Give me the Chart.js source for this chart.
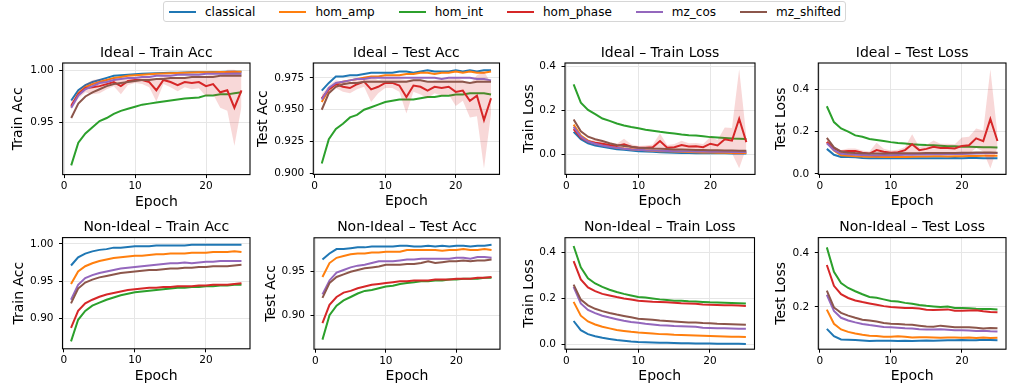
<!DOCTYPE html>
<html><head><meta charset="utf-8">
<script src="https://cdn.jsdelivr.net/npm/chart.js@4.4.1/dist/chart.umd.min.js"></script>
<style>
html,body{margin:0;padding:0;background:#fff;}
#fig{position:relative;width:1026px;height:392px;overflow:hidden;font-family:'DejaVu Sans';background:#fff;}
#legend{position:absolute;left:163px;top:1px;height:19px;border:1px solid #d6d6d6;border-radius:3px;display:flex;align-items:center;padding:0 4px 0 5px;font-size:12px;color:#000;white-space:nowrap;}
.item{display:flex;align-items:center;margin-right:24px;}
.item:last-child{margin-right:0;}
.swatch{width:27px;height:2px;margin-right:9px;}
canvas{position:absolute;}
</style></head>
<body><div id="fig"><div id="legend"></div></div>
<script>
// ---------------- data ----------------
const EPOCHS = [1,2,3,4,5,6,7,8,9,10,11,12,13,14,15,16,17,18,19,20,21,22,23,24,25];
const SERIES = ['classical','hom_amp','hom_int','hom_phase','mz_cos','mz_shifted'];
const COLORS = ['#1f77b4','#ff7f0e','#2ca02c','#d62728','#9467bd','#8c564b'];
const X_TICKS = [0,10,20];

// Ideal – Train Acc
const iTrA_classical = [0.971,0.981,0.986,0.989,0.991,0.993,0.995,0.9955,0.996,0.9965,0.997,0.9972,0.9975,0.9978,0.998,0.998,0.9982,0.9984,0.9985,0.9986,0.9987,0.9988,0.9989,0.999,0.999];
const iTrA_hom_amp = [0.965,0.978,0.984,0.987,0.989,0.991,0.993,0.994,0.995,0.9955,0.996,0.9965,0.997,0.9972,0.9975,0.9978,0.998,0.9982,0.9984,0.9985,0.9986,0.9987,0.9988,0.9989,0.999];
const iTrA_hom_int = [0.908,0.930,0.939,0.945,0.951,0.954,0.958,0.961,0.963,0.965,0.967,0.968,0.969,0.970,0.971,0.972,0.973,0.9735,0.974,0.976,0.976,0.977,0.977,0.978,0.979];
const iTrA_hom_phase = [0.966,0.977,0.983,0.984,0.985,0.987,0.989,0.985,0.990,0.991,0.991,0.989,0.981,0.991,0.989,0.986,0.989,0.988,0.989,0.985,0.987,0.979,0.981,0.964,0.981];
const iTrA_hom_phase_std = [0.004,0.004,0.004,0.007,0.007,0.005,0.004,0.008,0.004,0.003,0.004,0.005,0.011,0.004,0.005,0.006,0.005,0.006,0.006,0.010,0.010,0.015,0.020,0.037,0.016];
const iTrA_mz_cos = [0.964,0.976,0.982,0.985,0.988,0.989,0.991,0.992,0.993,0.993,0.994,0.994,0.995,0.995,0.995,0.996,0.996,0.996,0.996,0.997,0.997,0.997,0.997,0.997,0.997];
const iTrA_mz_shifted = [0.954,0.968,0.975,0.979,0.982,0.985,0.987,0.988,0.989,0.990,0.991,0.991,0.992,0.992,0.993,0.993,0.993,0.994,0.994,0.994,0.994,0.995,0.995,0.995,0.995];

// Ideal – Test Acc
const iTeA_classical = [0.965,0.971,0.976,0.976,0.977,0.977,0.978,0.979,0.979,0.979,0.979,0.980,0.980,0.979,0.980,0.981,0.980,0.980,0.980,0.981,0.980,0.981,0.980,0.981,0.981];
const iTeA_hom_amp = [0.956,0.966,0.970,0.972,0.973,0.974,0.975,0.976,0.976,0.977,0.977,0.977,0.978,0.978,0.979,0.979,0.978,0.979,0.979,0.980,0.979,0.980,0.979,0.979,0.980];
const iTeA_hom_int = [0.908,0.927,0.935,0.939,0.944,0.946,0.950,0.952,0.954,0.956,0.957,0.958,0.958,0.958,0.959,0.960,0.960,0.961,0.961,0.962,0.962,0.963,0.963,0.963,0.962];
const iTeA_hom_phase = [0.959,0.966,0.970,0.968,0.967,0.970,0.972,0.966,0.968,0.971,0.971,0.969,0.960,0.969,0.968,0.965,0.968,0.967,0.968,0.964,0.965,0.957,0.961,0.942,0.959];
const iTeA_hom_phase_std = [0.003,0.003,0.003,0.004,0.004,0.004,0.004,0.010,0.005,0.004,0.004,0.005,0.013,0.005,0.006,0.006,0.005,0.006,0.006,0.011,0.008,0.013,0.016,0.038,0.012];
const iTeA_mz_cos = [0.958,0.967,0.971,0.972,0.973,0.974,0.974,0.975,0.975,0.975,0.975,0.975,0.975,0.975,0.975,0.975,0.975,0.974,0.975,0.975,0.975,0.975,0.974,0.974,0.973];
const iTeA_mz_shifted = [0.950,0.963,0.968,0.970,0.971,0.971,0.972,0.972,0.972,0.972,0.972,0.972,0.972,0.973,0.973,0.972,0.972,0.972,0.972,0.972,0.972,0.971,0.972,0.972,0.972];

// Ideal – Train Loss
const iTrL_classical = [0.102,0.068,0.050,0.040,0.034,0.028,0.023,0.020,0.017,0.014,0.012,0.011,0.009,0.008,0.007,0.006,0.006,0.005,0.005,0.004,0.004,0.004,0.003,0.003,0.003];
const iTrL_hom_amp = [0.135,0.085,0.062,0.050,0.042,0.036,0.030,0.026,0.023,0.020,0.018,0.016,0.014,0.013,0.012,0.011,0.010,0.009,0.008,0.008,0.007,0.007,0.006,0.006,0.006];
const iTrL_hom_int = [0.318,0.235,0.202,0.183,0.163,0.152,0.140,0.131,0.124,0.118,0.112,0.107,0.102,0.098,0.094,0.090,0.087,0.085,0.082,0.078,0.076,0.074,0.072,0.071,0.069];
const iTrL_hom_phase = [0.115,0.075,0.058,0.052,0.048,0.042,0.038,0.045,0.034,0.030,0.030,0.032,0.060,0.030,0.032,0.042,0.035,0.036,0.032,0.048,0.040,0.068,0.062,0.162,0.055];
const iTrL_hom_phase_std = [0.008,0.008,0.008,0.012,0.012,0.010,0.010,0.025,0.012,0.008,0.010,0.012,0.035,0.012,0.015,0.020,0.015,0.015,0.015,0.030,0.025,0.054,0.058,0.226,0.025];
const iTrL_mz_cos = [0.125,0.080,0.058,0.048,0.040,0.034,0.029,0.025,0.022,0.020,0.018,0.017,0.016,0.015,0.014,0.013,0.013,0.012,0.012,0.011,0.011,0.011,0.010,0.010,0.010];
const iTrL_mz_shifted = [0.158,0.105,0.080,0.068,0.060,0.050,0.042,0.038,0.034,0.030,0.028,0.026,0.025,0.024,0.022,0.021,0.020,0.019,0.019,0.018,0.018,0.017,0.017,0.016,0.016];

// Ideal – Test Loss
const iTeL_classical = [0.118,0.090,0.080,0.079,0.078,0.075,0.074,0.074,0.074,0.073,0.074,0.074,0.073,0.074,0.074,0.073,0.074,0.074,0.075,0.074,0.075,0.075,0.074,0.074,0.073];
const iTeL_hom_amp = [0.150,0.110,0.088,0.085,0.083,0.082,0.081,0.081,0.080,0.080,0.081,0.080,0.081,0.082,0.082,0.083,0.083,0.082,0.083,0.083,0.084,0.084,0.085,0.085,0.085];
const iTeL_hom_int = [0.320,0.245,0.215,0.200,0.182,0.175,0.165,0.160,0.155,0.150,0.146,0.143,0.140,0.138,0.136,0.135,0.133,0.131,0.130,0.128,0.128,0.127,0.126,0.126,0.125];
const iTeL_hom_phase = [0.150,0.120,0.105,0.108,0.108,0.100,0.095,0.112,0.104,0.100,0.102,0.112,0.140,0.112,0.118,0.128,0.122,0.122,0.120,0.132,0.135,0.168,0.155,0.260,0.155];
const iTeL_hom_phase_std = [0.008,0.008,0.008,0.012,0.012,0.010,0.010,0.035,0.015,0.010,0.012,0.015,0.047,0.015,0.018,0.030,0.020,0.020,0.020,0.040,0.040,0.046,0.050,0.235,0.030];
const iTeL_mz_cos = [0.145,0.112,0.095,0.092,0.090,0.089,0.088,0.088,0.089,0.088,0.089,0.090,0.090,0.091,0.091,0.092,0.093,0.093,0.094,0.094,0.095,0.096,0.097,0.098,0.098];
const iTeL_mz_shifted = [0.170,0.125,0.105,0.100,0.098,0.097,0.096,0.096,0.096,0.096,0.097,0.097,0.097,0.097,0.098,0.098,0.098,0.099,0.099,0.100,0.100,0.101,0.101,0.101,0.100];

// Non-Ideal – Train Acc
const nTrA_classical = [0.971,0.982,0.987,0.990,0.992,0.993,0.995,0.995,0.996,0.997,0.997,0.997,0.998,0.998,0.998,0.998,0.998,0.999,0.999,0.999,0.999,0.999,0.999,0.999,0.999];
const nTrA_hom_amp = [0.946,0.963,0.970,0.974,0.977,0.979,0.981,0.982,0.983,0.984,0.984,0.985,0.986,0.986,0.987,0.987,0.987,0.988,0.988,0.988,0.989,0.989,0.989,0.990,0.989];
const nTrA_hom_int = [0.869,0.898,0.910,0.917,0.921,0.925,0.928,0.931,0.933,0.935,0.936,0.937,0.938,0.939,0.940,0.941,0.941,0.942,0.942,0.943,0.943,0.944,0.944,0.945,0.945];
const nTrA_hom_phase = [0.887,0.910,0.920,0.925,0.929,0.932,0.934,0.936,0.938,0.939,0.940,0.941,0.941,0.942,0.942,0.943,0.943,0.943,0.944,0.944,0.945,0.945,0.945,0.946,0.947];
const nTrA_mz_cos = [0.925,0.945,0.954,0.958,0.961,0.963,0.965,0.967,0.968,0.969,0.970,0.971,0.972,0.973,0.974,0.974,0.975,0.974,0.975,0.976,0.976,0.977,0.977,0.977,0.977];
const nTrA_mz_shifted = [0.920,0.940,0.948,0.952,0.955,0.957,0.959,0.961,0.962,0.963,0.964,0.965,0.965,0.966,0.967,0.967,0.968,0.968,0.969,0.969,0.970,0.970,0.970,0.971,0.972];

// Non-Ideal – Test Acc
const nTeA_classical = [0.964,0.971,0.976,0.976,0.977,0.978,0.978,0.979,0.979,0.979,0.979,0.980,0.980,0.979,0.979,0.980,0.979,0.980,0.979,0.980,0.980,0.979,0.980,0.980,0.981];
const nTeA_hom_amp = [0.944,0.960,0.966,0.968,0.970,0.971,0.971,0.972,0.972,0.973,0.973,0.973,0.975,0.975,0.975,0.975,0.975,0.974,0.975,0.975,0.976,0.975,0.975,0.976,0.975];
const nTeA_hom_int = [0.872,0.900,0.911,0.917,0.921,0.925,0.928,0.929,0.931,0.933,0.934,0.936,0.937,0.938,0.939,0.939,0.940,0.940,0.941,0.941,0.942,0.942,0.942,0.943,0.943];
const nTeA_hom_phase = [0.891,0.912,0.921,0.926,0.928,0.931,0.933,0.935,0.936,0.937,0.938,0.939,0.939,0.940,0.940,0.940,0.941,0.941,0.941,0.942,0.942,0.942,0.943,0.943,0.944];
const nTeA_mz_cos = [0.924,0.940,0.949,0.952,0.955,0.957,0.958,0.960,0.962,0.962,0.962,0.963,0.964,0.964,0.965,0.965,0.965,0.965,0.965,0.966,0.966,0.965,0.967,0.967,0.966];
const nTeA_mz_shifted = [0.920,0.937,0.944,0.947,0.950,0.952,0.954,0.955,0.956,0.958,0.958,0.958,0.959,0.959,0.960,0.962,0.960,0.961,0.962,0.962,0.963,0.962,0.963,0.963,0.964];

// Non-Ideal – Train Loss
const nTrL_classical = [0.102,0.062,0.045,0.036,0.029,0.024,0.019,0.016,0.013,0.011,0.010,0.009,0.008,0.007,0.006,0.005,0.005,0.004,0.004,0.004,0.003,0.003,0.003,0.003,0.002];
const nTrL_hom_amp = [0.185,0.125,0.100,0.087,0.077,0.070,0.063,0.059,0.055,0.052,0.050,0.048,0.045,0.044,0.042,0.041,0.040,0.039,0.038,0.037,0.036,0.035,0.034,0.034,0.033];
const nTrL_hom_int = [0.428,0.335,0.288,0.265,0.250,0.238,0.228,0.220,0.213,0.206,0.204,0.200,0.196,0.193,0.190,0.190,0.188,0.187,0.185,0.183,0.182,0.181,0.180,0.179,0.178];
const nTrL_hom_phase = [0.362,0.283,0.248,0.232,0.220,0.213,0.206,0.200,0.195,0.190,0.188,0.186,0.185,0.183,0.181,0.179,0.178,0.177,0.174,0.173,0.172,0.171,0.170,0.169,0.167];
const nTrL_mz_cos = [0.250,0.178,0.150,0.136,0.125,0.117,0.110,0.103,0.098,0.094,0.090,0.087,0.084,0.082,0.080,0.079,0.078,0.077,0.073,0.072,0.071,0.070,0.069,0.068,0.068];
const nTrL_mz_shifted = [0.260,0.195,0.170,0.155,0.145,0.137,0.130,0.124,0.118,0.112,0.110,0.107,0.104,0.102,0.100,0.098,0.096,0.095,0.093,0.092,0.090,0.089,0.088,0.087,0.086];

// Non-Ideal – Test Loss
const nTeL_classical = [0.119,0.092,0.080,0.079,0.078,0.076,0.074,0.075,0.075,0.075,0.074,0.075,0.074,0.075,0.076,0.075,0.076,0.077,0.077,0.078,0.077,0.077,0.079,0.078,0.077];
const nTeL_hom_amp = [0.190,0.138,0.117,0.108,0.102,0.097,0.094,0.093,0.090,0.090,0.092,0.090,0.087,0.088,0.088,0.087,0.086,0.087,0.087,0.086,0.087,0.085,0.087,0.085,0.086];
const nTeL_hom_int = [0.420,0.330,0.288,0.270,0.258,0.247,0.237,0.234,0.228,0.222,0.220,0.215,0.212,0.207,0.204,0.202,0.200,0.202,0.196,0.196,0.195,0.193,0.192,0.192,0.191];
const nTeL_hom_phase = [0.355,0.278,0.247,0.233,0.224,0.218,0.213,0.208,0.203,0.200,0.198,0.196,0.196,0.194,0.190,0.189,0.190,0.191,0.186,0.186,0.187,0.188,0.184,0.181,0.180];
const nTeL_mz_cos = [0.245,0.185,0.160,0.150,0.143,0.137,0.133,0.130,0.126,0.125,0.123,0.121,0.120,0.118,0.117,0.117,0.118,0.116,0.114,0.114,0.113,0.111,0.112,0.110,0.109];
const nTeL_mz_shifted = [0.260,0.198,0.178,0.168,0.160,0.153,0.150,0.146,0.141,0.138,0.137,0.135,0.134,0.131,0.128,0.127,0.131,0.128,0.125,0.125,0.125,0.123,0.120,0.122,0.121];

// y tick labels per panel
const Y_TICKS_ITRA = [0.95, 1.00];
const Y_TICKS_ITEA = [0.900, 0.925, 0.950, 0.975];
const Y_TICKS_ITRL = [0.0, 0.2, 0.4];
const Y_TICKS_ITEL = [0.0, 0.2, 0.4];
const Y_TICKS_NTRA = [0.90, 0.95, 1.00];
const Y_TICKS_NTEA = [0.90, 0.95];
const Y_TICKS_NTRL = [0.0, 0.2, 0.4];
const Y_TICKS_NTEL = [0.2, 0.4];

// ---------------- panels ----------------
const panels = [
  {title:'Ideal – Train Acc', ylabel:'Train Acc', series:[iTrA_classical,iTrA_hom_amp,iTrA_hom_int,iTrA_hom_phase,iTrA_mz_cos,iTrA_mz_shifted], std:iTrA_hom_phase_std, yMin:0.899, yMax:1.0075, ticks:Y_TICKS_ITRA, dec:2, box:[62.7,63,250,174.6], yoff:44},
  {title:'Ideal – Test Acc', ylabel:'Test Acc', series:[iTeA_classical,iTeA_hom_amp,iTeA_hom_int,iTeA_hom_phase,iTeA_mz_cos,iTeA_mz_shifted], std:iTeA_hom_phase_std, yMin:0.8994, yMax:0.9866, ticks:Y_TICKS_ITEA, dec:3, box:[313.3,63,499.5,174.4], yoff:50},
  {title:'Ideal – Train Loss', ylabel:'Train Loss', series:[iTrL_classical,iTrL_hom_amp,iTrL_hom_int,iTrL_hom_phase,iTrL_mz_cos,iTrL_mz_shifted], std:iTrL_hom_phase_std, yMin:-0.092, yMax:0.416, ticks:Y_TICKS_ITRL, dec:1, box:[565,63,755,174.4], yoff:35.5},
  {title:'Ideal – Test Loss', ylabel:'Test Loss', series:[iTeL_classical,iTeL_hom_amp,iTeL_hom_int,iTeL_hom_phase,iTeL_mz_cos,iTeL_mz_shifted], std:iTeL_hom_phase_std, yMin:-0.003, yMax:0.525, ticks:Y_TICKS_ITEL, dec:1, box:[818.3,63,1006,174.4], yoff:37},
  {title:'Non-Ideal – Train Acc', ylabel:'Train Acc', series:[nTrA_classical,nTrA_hom_amp,nTrA_hom_int,nTrA_hom_phase,nTrA_mz_cos,nTrA_mz_shifted], std:null, yMin:0.859, yMax:1.0085, ticks:Y_TICKS_NTRA, dec:2, box:[62.5,237.6,250,348.8], yoff:43},
  {title:'Non-Ideal – Test Acc', ylabel:'Test Acc', series:[nTeA_classical,nTeA_hom_amp,nTeA_hom_int,nTeA_hom_phase,nTeA_mz_cos,nTeA_mz_shifted], std:null, yMin:0.861, yMax:0.989, ticks:Y_TICKS_NTEA, dec:2, box:[314,237.8,500,349.2], yoff:43},
  {title:'Non-Ideal – Train Loss', ylabel:'Train Loss', series:[nTrL_classical,nTrL_hom_amp,nTrL_hom_int,nTrL_hom_phase,nTrL_mz_cos,nTrL_mz_shifted], std:null, yMin:-0.0205, yMax:0.464, ticks:Y_TICKS_NTRL, dec:1, box:[565,237.7,754.5,349.2], yoff:35.5},
  {title:'Non-Ideal – Test Loss', ylabel:'Test Loss', series:[nTeL_classical,nTeL_hom_amp,nTeL_hom_int,nTeL_hom_phase,nTeL_mz_cos,nTeL_mz_shifted], std:null, yMin:0.044, yMax:0.456, ticks:Y_TICKS_NTEL, dec:1, box:[818.3,237.6,1006,349.2], yoff:37},
];

// ---------------- legend ----------------
const legend = document.getElementById('legend');
SERIES.forEach((name, i) => {
  const it = document.createElement('div'); it.className = 'item';
  const sw = document.createElement('div'); sw.className = 'swatch'; sw.style.background = COLORS[i];
  const tx = document.createElement('span'); tx.textContent = name;
  it.appendChild(sw); it.appendChild(tx); legend.appendChild(it);
});

// ---------------- charts ----------------
Chart.defaults.font.family = "'DejaVu Sans', sans-serif";
Chart.defaults.color = '#000';

const framePlugin = {
  id: 'frame',
  afterDraw(chart) {
    const {ctx, chartArea: a} = chart;
    ctx.save();
    ctx.strokeStyle = '#000';
    ctx.lineWidth = 1.1;
    ctx.strokeRect(a.left, a.top, a.right - a.left, a.bottom - a.top);
    ctx.restore();
  }
};

const TITLE_PT = 4, TITLE_PB = 1.6, TITLE_SIZE = 14;
const TH = TITLE_PT + TITLE_SIZE * 1.2 + TITLE_PB;
const XH = 35.7;
const fig = document.getElementById('fig');

function pts(arr) { return arr.map((y, k) => ({x: EPOCHS[k], y})); }

panels.forEach(p => {
  const [L, T, R, B] = p.box;
  const YW = p.yoff + 8.4;
  const cx = Math.floor(L - YW - 2), cy = Math.floor(T - TH - 2);
  const cw = Math.ceil(R + 3 - cx), ch = Math.ceil(B + XH + 2 - cy);
  const pad = {left: L - YW - cx, top: T - TH - cy, right: cx + cw - R, bottom: cy + ch - B - XH};
  const cv = document.createElement('canvas');
  cv.width = cw; cv.height = ch;
  cv.style.left = cx + 'px'; cv.style.top = cy + 'px';
  cv.style.width = cw + 'px'; cv.style.height = ch + 'px';
  fig.appendChild(cv);

  const datasets = [];
  p.series.forEach((arr, i) => {
    if (i === 3 && p.std) {
      datasets.push({label: 'band_hi', data: pts(arr.map((m, k) => m + p.std[k])), borderWidth: 0, pointRadius: 0, fill: false, order: 10 - i - 0.5, borderColor: 'rgba(0,0,0,0)'});
      datasets.push({label: 'band_lo', data: pts(arr.map((m, k) => m - p.std[k])), borderWidth: 0, pointRadius: 0, fill: '-1', backgroundColor: 'rgba(214,39,40,0.18)', order: 10 - i - 0.5, borderColor: 'rgba(0,0,0,0)'});
    }
    datasets.push({label: SERIES[i], data: pts(arr), borderColor: COLORS[i], backgroundColor: COLORS[i], borderWidth: 2, pointRadius: 0, tension: 0, fill: false, order: 10 - i});
  });

  new Chart(cv, {
    type: 'line',
    data: {datasets},
    plugins: [framePlugin],
    options: {
      responsive: false, animation: false, devicePixelRatio: 1,
      layout: {padding: pad},
      plugins: {
        legend: {display: false}, tooltip: {enabled: false},
        title: {display: true, fullSize: false, align: 'center', text: p.title, color: '#000', font: {size: TITLE_SIZE, weight: 'normal'}, padding: {top: TITLE_PT, bottom: TITLE_PB}}
      },
      scales: {
        x: {
          type: 'linear', min: -0.2, max: 26.2,
          afterBuildTicks: s => { s.ticks = X_TICKS.map(v => ({value: v})); },
          afterFit: s => { s.height = XH; },
          ticks: {font: {size: 10.5}, color: '#000', padding: 2, maxRotation: 0, autoSkip: false},
          grid: {color: '#e6e6e6', lineWidth: 1, tickLength: 3.5, tickColor: '#000', drawTicks: true},
          border: {display: false},
          title: {display: true, text: 'Epoch', color: '#000', font: {size: 14}, padding: {top: 0, bottom: 0}}
        },
        y: {
          type: 'linear', min: p.yMin, max: p.yMax,
          afterBuildTicks: s => { s.ticks = p.ticks.map(v => ({value: v})); },
          afterFit: s => { s.width = YW; },
          ticks: {font: {size: 10.5}, color: '#000', padding: 5.5, autoSkip: false, callback: v => Number(v).toFixed(p.dec)},
          grid: {color: '#e6e6e6', lineWidth: 1, tickLength: 3.5, tickColor: '#000', drawTicks: true},
          border: {display: false},
          title: {display: true, text: p.ylabel, color: '#000', font: {size: 14}, padding: {top: 0, bottom: 0}}
        }
      }
    }
  });
});
</script>
</body></html>
